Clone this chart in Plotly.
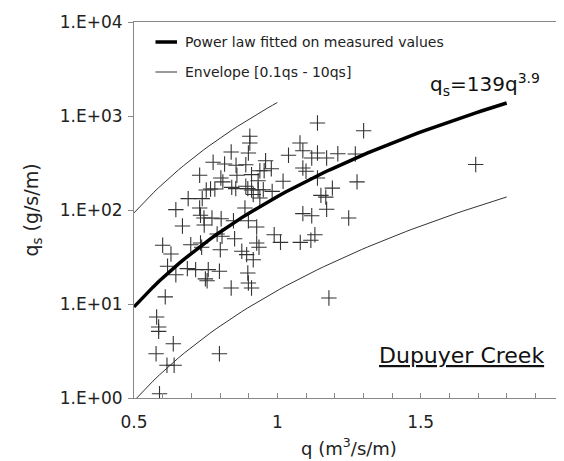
import numpy as np
import plotly.graph_objects as go

q_meas = [0.904, 0.904, 0.839, 0.899, 0.776, 0.816, 0.856, 0.890, 0.729, 0.803,
          0.859, 0.910, 0.939, 0.767, 0.782, 0.752, 0.841, 0.855, 0.890, 0.897,
          0.910, 0.933, 0.689, 0.738, 0.646, 0.729, 0.732, 0.744, 0.772, 0.804,
          0.887, 0.899, 0.669, 0.745, 0.928, 0.810, 0.847, 0.600, 0.629, 0.698,
          0.732, 0.736, 0.790, 0.807, 0.851, 0.801, 0.928, 0.936, 0.876, 0.893,
          0.916, 0.617, 0.646, 0.686, 0.715, 0.759, 0.798, 0.749, 0.755, 0.897,
          0.899, 0.910, 0.839, 0.609, 0.579, 0.586, 0.586, 0.637, 0.577, 0.798,
          0.615, 0.640, 0.589, 1.140, 1.301, 1.079, 1.089, 1.039, 1.120, 1.140,
          1.172, 1.211, 1.272, 0.959, 0.954, 0.979, 1.089, 1.100, 1.020, 1.140,
          1.192, 1.278, 1.152, 1.169, 0.951, 0.982, 0.916, 0.939, 0.933, 1.089,
          1.120, 1.172, 1.249, 0.989, 1.011, 1.080, 1.117, 1.131, 1.180, 1.692]
qs_meas = [608, 516, 414, 404, 322, 309, 299, 303, 234, 219,
           234, 238, 262, 167, 167, 163, 174, 169, 179, 169,
           163, 164, 132, 132, 101, 105, 87.8, 82.2, 82.2, 80.8,
           105, 76.9, 67.6, 69.2, 65.9, 199, 76.9, 42.1, 34.0, 42.7,
           44.6, 40.1, 55.6, 52.5, 49.5, 37.8, 44.6, 40.1, 36.4, 33.5,
           29.6, 25.2, 20.5, 23.8, 23.2, 23.2, 22.3, 18.5, 17.7, 21.4,
           16.7, 14.8, 14.8, 11.9, 7.27, 5.69, 5.12, 3.78, 2.96, 2.96,
           2.23, 2.23, 1.11, 843, 698, 516, 427, 382, 357, 404,
           357, 397, 394, 334, 262, 275, 280, 258, 202, 219,
           171, 199, 143, 137, 164, 158, 146, 134, 205, 91.4,
           87.0, 102, 82.2, 54.6, 45.3, 45.3, 47.6, 54.6, 11.6, 305]

# Fitted power law qs = 139 q^3.9 and its envelope [0.1qs - 10qs]
coef = 139
expo = 3.9
q_fit = np.linspace(0.5, 1.8, 60)
q_upper = np.linspace(0.5, 1.0, 30)
qs_fit = coef * q_fit ** expo
qs_low = 0.1 * coef * q_fit ** expo
qs_up = 10 * coef * q_upper ** expo

x_ticks = [0.5, 1, 1.5, 2]
x_ticktext = ["0.5", "1", "1.5", "2"]
y_ticks = [1, 10, 100, 1000, 10000]
y_ticktext = ["1.E+00", "1.E+01", "1.E+02", "1.E+03", "1.E+04"]

FONT = "DejaVu Sans"
fig = go.Figure()
fig.add_trace(go.Scatter(x=q_upper, y=qs_up, mode="lines",
                         line=dict(color="#333333", width=1), showlegend=False))
fig.add_trace(go.Scatter(x=q_fit, y=qs_low, mode="lines",
                         line=dict(color="#333333", width=1), showlegend=False))
fig.add_trace(go.Scatter(x=q_meas, y=qs_meas, mode="markers",
                         marker=dict(symbol="cross-thin", size=11,
                                     line=dict(color="#333333", width=1.1)),
                         showlegend=False))
fig.add_trace(go.Scatter(x=q_fit, y=qs_fit, mode="lines",
                         line=dict(color="black", width=3.5), showlegend=False))

# manual legend
fig.add_shape(type="line", xref="paper", yref="paper", x0=0.05, x1=0.10,
              y0=(390 - 34) / 376, y1=(390 - 34) / 376, line=dict(color="black", width=3.5))
fig.add_shape(type="line", xref="paper", yref="paper", x0=0.05, x1=0.10,
              y0=(390 - 64) / 376, y1=(390 - 64) / 376, line=dict(color="#555555", width=1.2))
fig.add_annotation(xref="paper", yref="paper", x=0.115, y=(390 - 34) / 376,
                   xanchor="left", yanchor="middle", showarrow=False,
                   text="Power law fitted on measured values",
                   font=dict(family=FONT, size=14, color="#222222"))
fig.add_annotation(xref="paper", yref="paper", x=0.115, y=(390 - 64) / 376,
                   xanchor="left", yanchor="middle", showarrow=False,
                   text="Envelope [0.1qs - 10qs]",
                   font=dict(family=FONT, size=14, color="#222222"))
fig.add_annotation(xref="paper", yref="paper", x=(423 - 126) / 435, y=(390 - 76) / 376,
                   xanchor="left", yanchor="middle", showarrow=False,
                   text="q<sub>s</sub>=139q<sup>3.9</sup>",
                   font=dict(family=FONT, size=20, color="#111111"))
fig.add_annotation(xref="paper", yref="paper", x=(543 - 126) / 435, y=(390 - 347) / 376,
                   xanchor="right", yanchor="middle", showarrow=False,
                   text="<u>Dupuyer Creek</u>",
                   font=dict(family=FONT, size=22, color="#111111"))

fig.update_layout(
    width=564, height=461,
    margin=dict(l=126, r=3, t=14, b=71),
    paper_bgcolor="white", plot_bgcolor="white",
    font=dict(family=FONT, color="#222222"),
    showlegend=False,
)
fig.update_xaxes(range=[0.5, 2], tickvals=x_ticks, ticktext=x_ticktext,
                 tickfont=dict(size=17), ticks="inside", ticklen=5, tickcolor="#888888",
                 ticklabelstandoff=9, ticklabeloverflow="allow",
                 minor=dict(dtick=0.1, ticks="inside", ticklen=5, tickcolor="#888888"),
                 showline=True, linecolor="#888888", linewidth=1, mirror=True,
                 showgrid=False, zeroline=False,
                 title=dict(text="q (m<sup>3</sup>/s/m)", font=dict(size=18), standoff=10))
fig.update_yaxes(type="log", range=[0, 4], tickvals=y_ticks, ticktext=y_ticktext,
                 tickfont=dict(size=17), ticks="outside", ticklen=5, tickcolor="#888888",
                 ticklabelstandoff=2,
                 showline=True, linecolor="#888888", linewidth=1, mirror=True,
                 showgrid=False, zeroline=False,
                 title=dict(text="q<sub>s</sub> (g/s/m)", font=dict(size=19), standoff=16))

fig.write_html("out.html")
